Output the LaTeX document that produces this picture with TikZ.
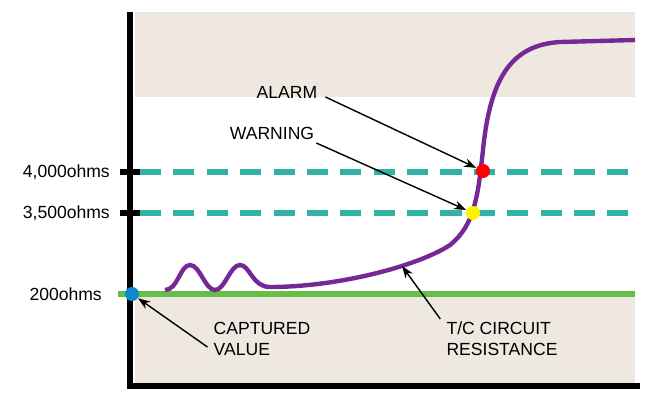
\documentclass[tikz,border=0pt]{standalone}
\usepackage{fontspec}
\setmainfont{Liberation Sans}
\usetikzlibrary{arrows.meta,positioning}
\definecolor{beige}{RGB}{238,232,224}
\definecolor{teal}{RGB}{48,178,164}
\definecolor{grn}{RGB}{102,190,70}
\definecolor{purp}{RGB}{118,40,150}
\tikzset{
  lbl/.style={font=\fontsize{10}{12}\selectfont, align=left},
  ptr/.style={-{Stealth[length=7pt,width=5pt]}, thick},
  dot/.style={circle, inner sep=0pt, minimum size=8pt},
}
\begin{document}
\begin{tikzpicture}[x=0.02cm,y=-0.02cm]
    \useasboundingbox (0,0) rectangle (650,400);

    % background bands
    \fill[beige] (135,12) rectangle (635,97);
    \fill[beige] (135,294) rectangle (635,383);

    % thresholds
    \draw[teal, line width=3pt, dash pattern=on 12pt off 7pt] (140,172) -- (635,172);
    \draw[teal, line width=3pt, dash pattern=on 12pt off 7pt] (140,213) -- (635,213);
    \draw[grn, line width=3.5pt] (118,294) -- (635,294);

    % axes
    \draw[line width=3pt] (130,12) -- (130,386) -- (640,386);
    \draw[line width=3pt] (120,172) -- (140,172);
    \draw[line width=3pt] (120,213) -- (140,213);

    % axis labels
    \node[lbl, anchor=east] (a4000) at (116,172) {4,000ohms};
    \node[lbl, anchor=east] (a3500) at (116,213) {3,500ohms};
    \node[lbl, anchor=east] (a200) at (108,294) {200ohms};

    % resistance curve
    \draw[purp, line width=2.5pt] (165,290) .. controls (178,290) and (180,265) .. (190,265)
        .. controls (200,265) and (205,290) .. (215,290)
        .. controls (225,290) and (230,265) .. (240,265)
        .. controls (250,265) and (252,287) .. (270,287)
        .. controls (340,287) and (420,265) .. (450,245)
        .. controls (475,225) and (478,195) .. (483,150)
        .. controls (490,80) and (510,45) .. (560,42)
        -- (635,40);

    % points
    \node[dot, fill=red] (alarmpt) at (483,171) {};
    \node[dot, fill=yellow] (warnpt) at (473,213) {};
    \node[dot, fill=cyan!70!blue] (capt) at (132,294) {};
    \coordinate (curvept) at (402,266);

    % callouts
    \node[lbl] (alarm) at (287,92) {ALARM};
    \node[lbl] (warning) at (272,133) {WARNING};
    \node[lbl] (captured) at (262,339) {CAPTURED\\VALUE};
    \node[lbl] (tc) at (502,339) {T/C CIRCUIT\\RESISTANCE};

    \draw[ptr] (alarm.east) ++(2,5) -- (alarmpt);
    \draw[ptr] (warning.east) ++(-4,10) -- (warnpt);
    \draw[ptr] (captured.west) ++(0,8) -- (capt);
    \draw[ptr] (tc.west) ++(0,-20) -- (curvept);
\end{tikzpicture}
\end{document}
